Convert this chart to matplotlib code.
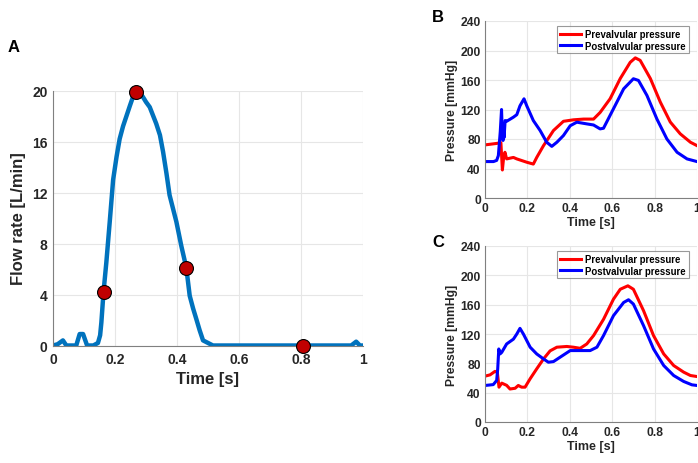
import matplotlib.pyplot as plt

plt.rcParams['font.family'] = ['Liberation Sans', 'DejaVu Sans']
plt.rcParams['font.weight'] = 'bold'

# Panel A: flow rate through the valve
flow_t = [0.0, 0.015, 0.032, 0.043, 0.075, 0.086, 0.097, 0.11, 0.13, 0.145, 0.152, 0.156,
          0.163, 0.172, 0.183, 0.194, 0.205, 0.215, 0.226, 0.237, 0.248, 0.258, 0.269,
          0.28, 0.29, 0.3, 0.312, 0.333, 0.345, 0.355, 0.366, 0.376, 0.398, 0.414, 0.43,
          0.441, 0.452, 0.462, 0.473, 0.484, 0.5, 0.516, 0.962, 0.978, 0.99, 1.0]
flow_q = [0.0, 0.1, 0.4, 0.0, 0.0, 0.9, 0.9, 0.0, 0.0, 0.2, 0.8, 1.8,
          4.2, 6.5, 9.7, 13.0, 14.8, 16.2, 17.2, 18.0, 18.8, 19.5, 19.9,
          19.8, 19.5, 19.1, 18.7, 17.4, 16.5, 15.2, 13.5, 11.8, 9.7, 7.8, 6.1,
          3.9, 2.9, 2.1, 1.2, 0.4, 0.2, 0.0, 0.0, 0.3, 0.0, 0.0]
mark_t = [0.163, 0.269, 0.43, 0.806]
mark_q = [4.2, 19.9, 6.1, 0.0]

# Panel B: pressures
b_pre_t = [0.0, 0.055, 0.075, 0.082, 0.088, 0.094, 0.102, 0.134, 0.15, 0.197, 0.228,
           0.244, 0.276, 0.323, 0.37, 0.417, 0.465, 0.512, 0.543, 0.59, 0.638, 0.685,
           0.709, 0.732, 0.78, 0.827, 0.874, 0.921, 0.969, 1.0]
b_pre_p = [72, 74, 75, 38, 55, 62, 53, 55, 53, 48.5, 46,
           55, 71, 91.5, 104, 106, 107, 107, 116, 134.5, 162, 184,
           190, 186.6, 162, 130, 103, 87, 75.6, 71]
b_post_t = [0.0, 0.04, 0.055, 0.063, 0.072, 0.078, 0.082, 0.085, 0.088, 0.09, 0.095,
            0.102, 0.134, 0.15, 0.165, 0.184, 0.197, 0.228, 0.26, 0.291, 0.315, 0.339,
            0.37, 0.402, 0.433, 0.48, 0.512, 0.543, 0.559, 0.606, 0.654, 0.7, 0.724,
            0.764, 0.811, 0.858, 0.906, 0.953, 1.0]
b_post_p = [49.4, 49.4, 51, 57.5, 90, 120, 85, 78, 100, 82, 105,
            104, 109.6, 113, 125, 134.5, 125, 105, 91.5, 75.6, 70, 75.6,
            84.7, 98, 102.8, 100.5, 99, 93.7, 94.6, 121, 148, 161.7, 159.4,
            139, 107, 80, 62, 53, 49.4]

# Panel C: pressures
c_pre_t = [0.0, 0.024, 0.047, 0.058, 0.066, 0.079, 0.102, 0.118, 0.142, 0.157, 0.173,
           0.189, 0.213, 0.244, 0.276, 0.307, 0.339, 0.386, 0.417, 0.449, 0.48, 0.512,
           0.559, 0.606, 0.638, 0.674, 0.7, 0.748, 0.795, 0.843, 0.89, 0.937, 0.969, 1.0]
c_pre_p = [62.5, 64.3, 69, 68, 47.5, 53, 50, 45, 46, 49.8, 47.5,
           47.5, 59, 72.5, 86, 97, 102, 103, 102, 100.5, 106.4, 117.8,
           140, 167.5, 181, 185.7, 181, 151.7, 117.8, 92.8, 77, 68, 63.4, 62]
c_post_t = [0.0, 0.039, 0.055, 0.06, 0.065, 0.071, 0.079, 0.102, 0.134, 0.15, 0.165,
            0.181, 0.213, 0.244, 0.276, 0.299, 0.323, 0.354, 0.402, 0.449, 0.496, 0.528,
            0.559, 0.606, 0.654, 0.677, 0.7, 0.748, 0.795, 0.843, 0.89, 0.937, 0.976, 1.0]
c_post_p = [49.8, 51, 56.6, 72.5, 99.6, 92.8, 95, 106.4, 113, 120, 127.7,
            120, 102, 92.8, 86, 81.5, 82.4, 88.3, 97.4, 97.4, 97.4, 102,
            117.8, 145, 163, 166.7, 160.8, 131.3, 99.6, 77, 63.4, 55.3, 50.7, 49.8]

x_ticks = [0, 0.2, 0.4, 0.6, 0.8, 1]
x_labels = ['0', '0.2', '0.4', '0.6', '0.8', '1']

W, H = 698, 464
fig = plt.figure(figsize=(W / 100, H / 100), dpi=100)


def style(ax, tsize, pad):
    ax.set_xlim(0, 1)
    ax.set_xticks(x_ticks)
    ax.set_xticklabels(x_labels)
    ax.grid(True, color='#e6e6e6', linewidth=0.8)
    ax.set_axisbelow(True)
    for s in ['top', 'right']:
        ax.spines[s].set_visible(False)
    for s in ['left', 'bottom']:
        ax.spines[s].set_color('#808080')
        ax.spines[s].set_linewidth(0.8)
    ax.tick_params(labelsize=tsize, colors='#262626', length=0, pad=pad)
    for lab in ax.get_xticklabels() + ax.get_yticklabels():
        lab.set_fontweight('bold')


# A
axA = fig.add_axes([53 / W, 1 - 346.5 / H, 310 / W, 255 / H])
axA.plot(flow_t, flow_q, color='#0072BD', linewidth=3.2, solid_joinstyle='round', zorder=2)
axA.plot(mark_t, mark_q, 'o', color='#C00000', markeredgecolor='black',
         markeredgewidth=0.8, markersize=10, zorder=3, clip_on=False)
axA.set_ylim(0, 20)
axA.set_yticks([0, 4, 8, 12, 16, 20])
style(axA, 10, 5)
axA.tick_params(axis='y', pad=4)
axA.set_xlabel('Time [s]', fontsize=12, fontweight='bold', color='#262626', labelpad=3)
axA.set_ylabel('Flow rate [L/min]', fontsize=12, fontweight='bold', color='#262626', labelpad=4)
fig.text(8 / W, 1 - 48 / H, 'A', fontsize=12, fontweight='bold', va='center')

# B and C
for top, bot, lab, ly, pt, pp, qt, qp in [
        (22, 199, 'B', 18, b_pre_t, b_pre_p, b_post_t, b_post_p),
        (247, 423, 'C', 243, c_pre_t, c_pre_p, c_post_t, c_post_p)]:
    ax = fig.add_axes([485 / W, 1 - bot / H, 212 / W, (bot - top) / H])
    ax.plot(pt, pp, color='#ff0000', linewidth=2.2, label='Prevalvular pressure')
    ax.plot(qt, qp, color='#0000ff', linewidth=2.2, label='Postvalvular pressure')
    ax.set_ylim(0, 240)
    ax.set_yticks([0, 40, 80, 120, 160, 200, 240])
    style(ax, 8.7, 3)
    ax.set_xlabel('Time [s]', fontsize=9, fontweight='bold', color='#262626', labelpad=1)
    ax.set_ylabel('Pressure [mmHg]', fontsize=8.7, fontweight='bold', color='#262626', labelpad=2)
    leg = ax.legend(loc='upper right', bbox_to_anchor=(0.96, 0.97),
                    prop={'weight': 'bold', 'size': 6.9}, frameon=True, fancybox=False,
                    handlelength=2.2, handletextpad=0.4, borderpad=0.3, labelspacing=0.15,
                    borderaxespad=0)
    leg.get_frame().set_edgecolor('#808080')
    leg.get_frame().set_linewidth(0.8)
    fig.text(432 / W, 1 - ly / H, lab, fontsize=12, fontweight='bold', va='center')

fig.savefig('out.png', dpi=100)
